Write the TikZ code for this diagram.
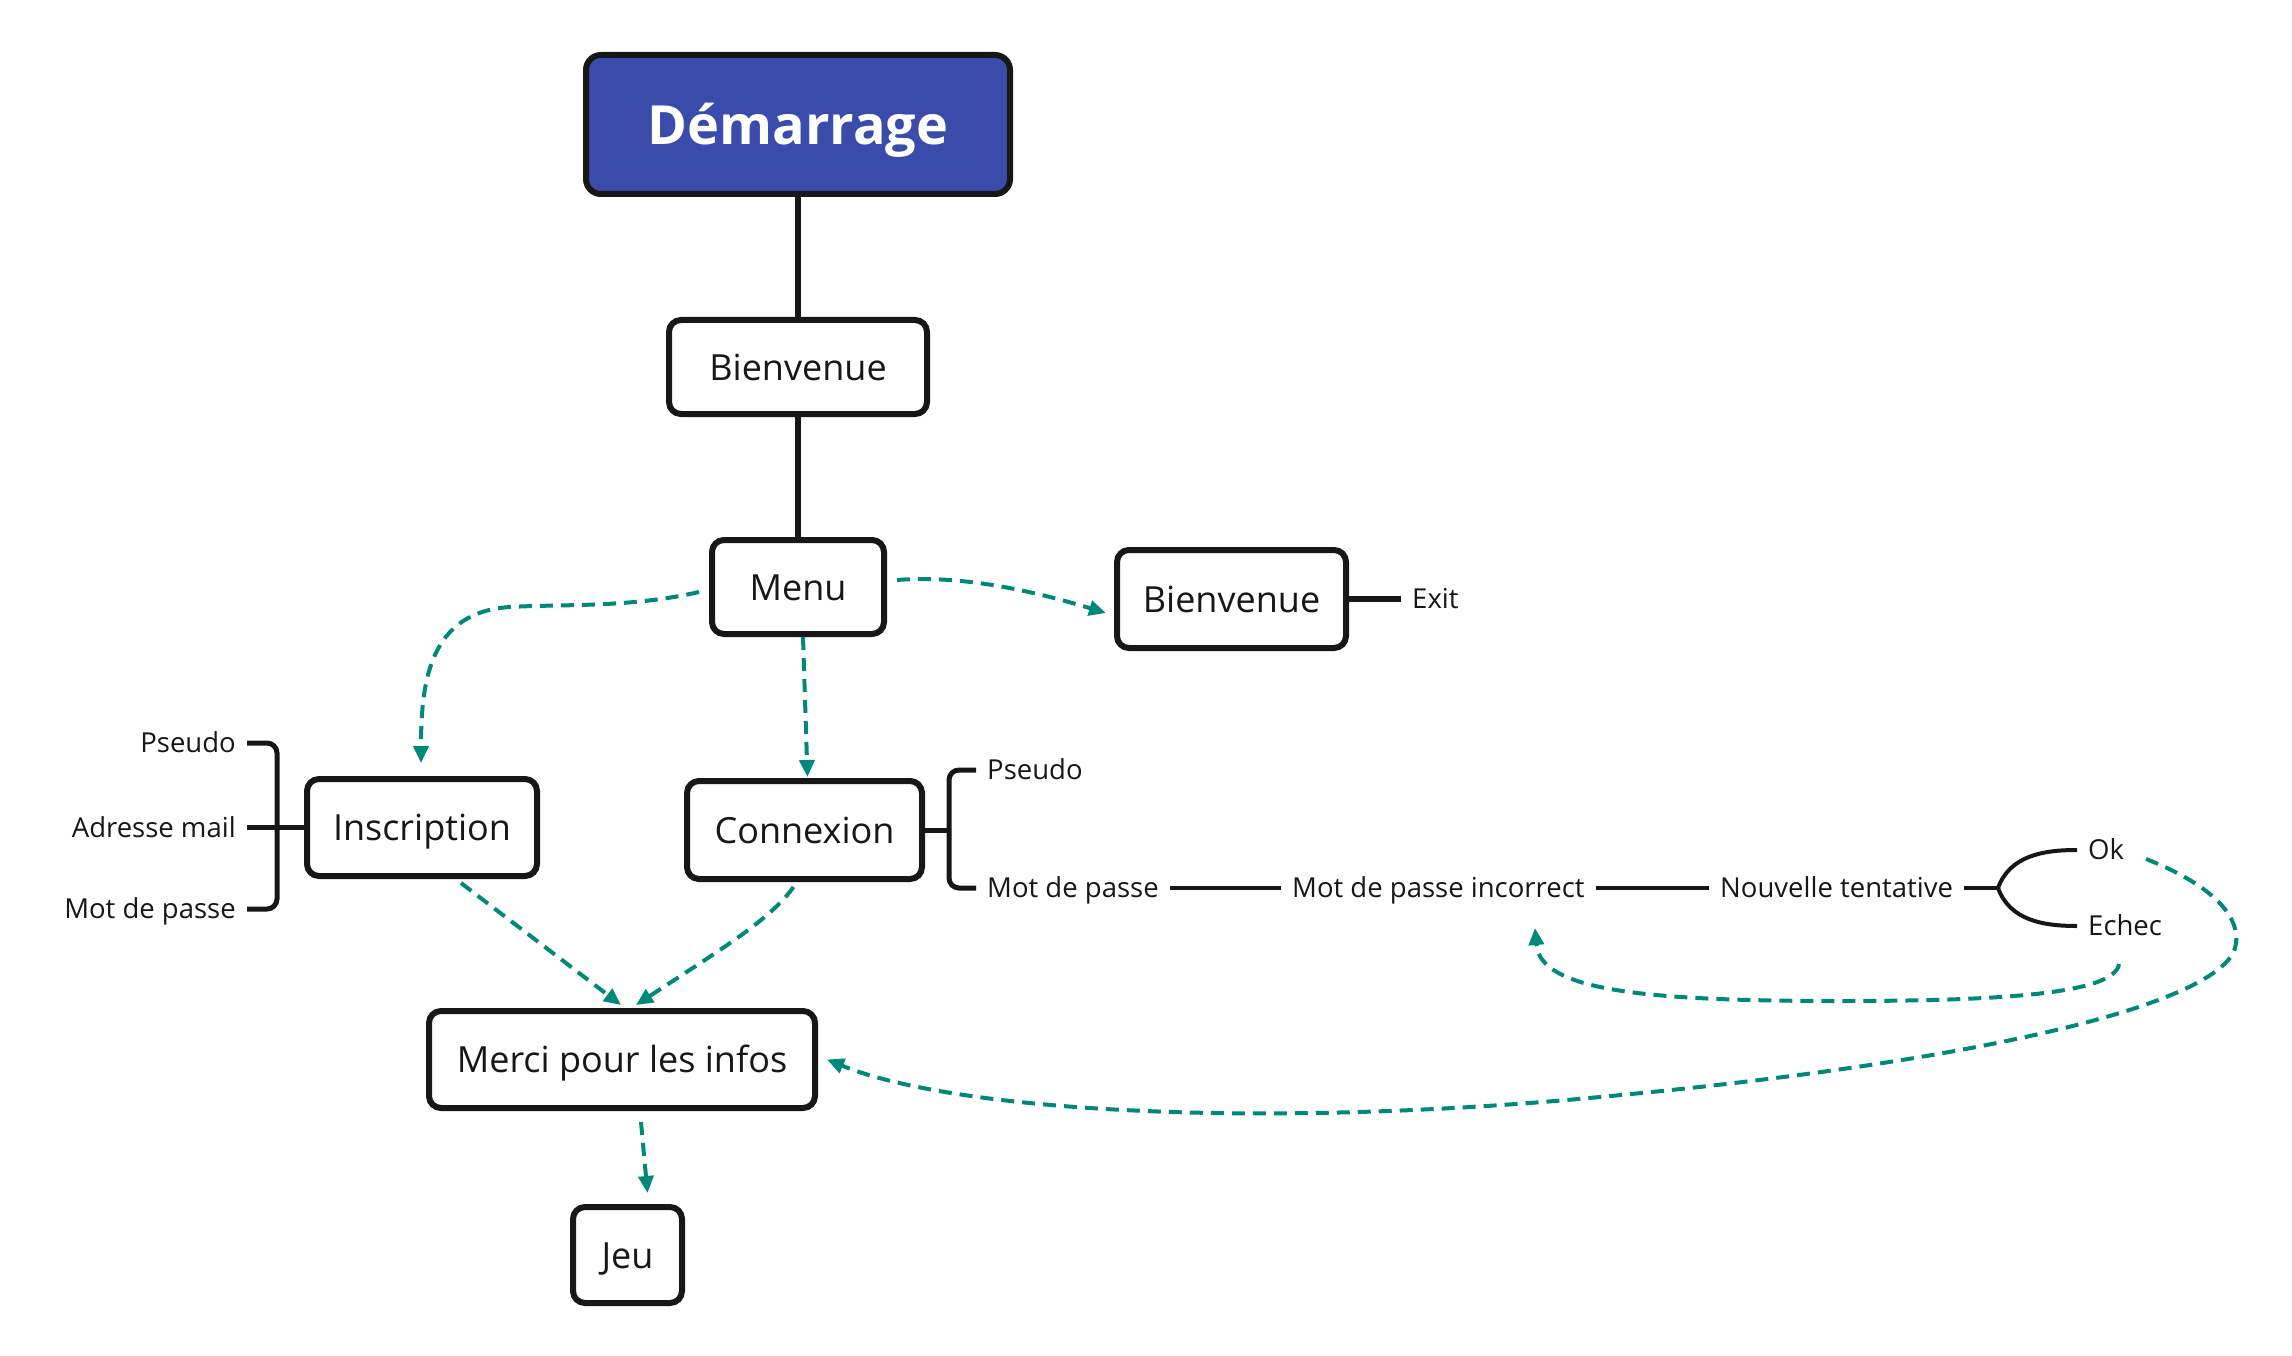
\documentclass[tikz,border=0pt]{standalone}
\usepackage{fontspec}
\setmainfont{Open Sans}
\usetikzlibrary{arrows.meta,calc}
\definecolor{teal2}{RGB}{0,137,122}
\definecolor{dblue}{RGB}{58,75,172}
\definecolor{ink}{RGB}{23,23,23}
\begin{document}
\begin{tikzpicture}[x=1pt,y=-1pt,
  box/.style={draw=ink, line width=6pt, rounded corners=12pt, fill=white, inner sep=0pt,
    font=\fontsize{36}{42}\selectfont, text height=26pt, text depth=0pt, text=ink},
  lbl/.style={inner xsep=11pt, inner ysep=0pt, font=\fontsize{27.5}{32}\selectfont,
    text height=19pt, text depth=0pt, text=ink},
  link/.style={draw=ink, line width=6pt},
  brk/.style={draw=ink, line width=5pt, rounded corners=10pt},
  chain/.style={draw=ink, line width=4pt},
  flow/.style={draw=teal2, line width=4pt, dash pattern=on 13pt off 8pt,
    -{Triangle[length=17pt,width=15pt]}},
]
\fill[white] (0,0) rectangle (2292,1356);
\useasboundingbox (0,0) rectangle (2292,1356);

% boxes
\node[box, fill=dblue, text=white, font=\fontsize{54}{60}\selectfont\bfseries,
  text height=40pt, minimum width=424pt, minimum height=139pt, rounded corners=15pt]
  (start) at (798,124.5) {Démarrage};
\node[box, minimum width=258pt, minimum height=94pt] (bien1) at (798,367) {Bienvenue};
\node[box, minimum width=172pt, minimum height=94pt] (menu) at (798,587) {Menu};
\node[box, minimum width=229pt, minimum height=98pt] (bien2) at (1231.5,599) {Bienvenue};
\node[box, minimum width=230pt, minimum height=97pt] (insc) at (422,827.5) {Inscription};
\node[box, minimum width=235pt, minimum height=98pt] (conn) at (804.5,830) {Connexion};
\node[box, minimum width=386pt, minimum height=97pt] (merci) at (622,1059.5) {Merci pour les infos};
\node[box, minimum width=109pt, minimum height=96pt] (jeu) at (627.5,1255) {Jeu};

% labels
\node[lbl, anchor=west] (exit) at (1401,599) {Exit};
\node[lbl, anchor=east] (psL) at (247,743) {Pseudo};
\node[lbl, anchor=east] (adr) at (247,827.5) {Adresse mail};
\node[lbl, anchor=east] (mdpL) at (247,909) {Mot de passe};
\node[lbl, anchor=west] (psR) at (976,770) {Pseudo};
\node[lbl, anchor=west] (mdpR) at (976,888) {Mot de passe};
\node[lbl, anchor=west] (mdpi) at (1281,888) {Mot de passe incorrect};
\node[lbl, anchor=west] (nouv) at (1709,888) {Nouvelle tentative};
\node[lbl, anchor=west] (ok) at (2077,850) {Ok};
\node[lbl, anchor=west] (echec) at (2077,926) {Echec};

\coordinate (bl) at (277,827.5);
\coordinate (br) at (949,830);
\coordinate (fork) at (1998,888);

% black connectors
\draw[link] (start.south) -- (bien1.north);
\draw[link] (bien1.south) -- (menu.north);
\draw[link] (bien2.east) -- (exit.west);
\draw[brk] (psL.east) -| (bl) |- (mdpL.east);
\draw[brk] (adr.east) -- (insc.west);
\draw[brk] (psR.west) -| (br) |- (mdpR.west);
\draw[brk] (conn.east) -- (br);
\draw[chain] (mdpR.east) -- (mdpi.west);
\draw[chain] (mdpi.east) -- (nouv.west);
\draw[chain] (nouv.east) -- (fork);
\draw[chain] (fork) to[out=70,in=180] (ok.west);
\draw[chain] (fork) to[out=-70,in=180] (echec.west);

% teal dashed flows
\draw[flow] ($(menu.east)+(10,-7)$) .. controls (960,575) and (1030,590) .. ($(bien2.west)+(-8,14)$);
\draw[flow] ($(menu.south)+(5,0)$) -- ($(conn.north)+(3,-1)$);
\draw[flow] ($(menu.west)+(-10,5)$) .. controls (630,608) and (560,604) .. (510,607)
  .. controls (430,612) and (421,680) .. ($(insc.north)+(-1,-13)$);
\draw[flow] ($(insc.south)+(39,4)$) -- ($(merci.north)+(-1,-3)$);
\draw[flow] ($(conn.south)+(-11,5)$) .. controls (770,920) and (720,950) .. ($(merci.north)+(14,-3)$);
\draw[flow] ($(merci.south)+(19,11)$) -- ($(jeu.north)+(20,-11)$);
\draw[flow] ($(echec.west)+(42,38)$) .. controls (2115,995) and (1990,1001) .. (1840,1001)
  .. controls (1640,1001) and (1540,990) .. ($(mdpi.west)+(254,40)$);
\draw[flow] ($(ok.west)+(69,9)$) .. controls (2200,880) and (2240,910) .. (2236,943)
  .. controls (2232,1000) and (2000,1060) .. (1600,1097)
  .. controls (1250,1130) and (950,1110) .. ($(merci.east)+(9,0)$);
\end{tikzpicture}
\end{document}
